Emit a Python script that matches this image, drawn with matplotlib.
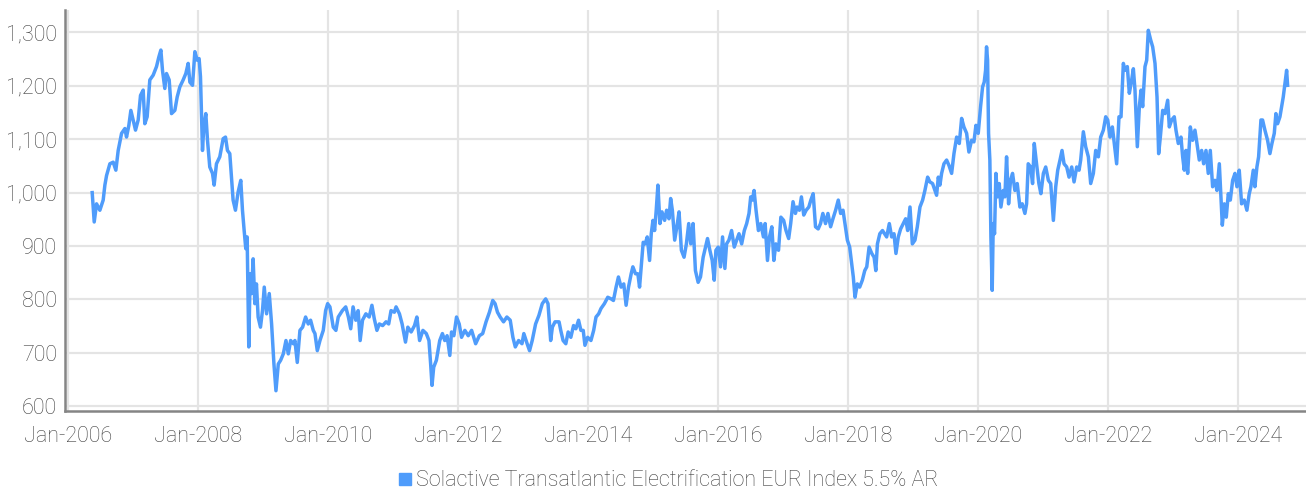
from datetime import datetime, timedelta
import matplotlib
matplotlib.use("Agg")
import matplotlib.pyplot as plt
import matplotlib.dates as mdates
from matplotlib.lines import Line2D
from matplotlib.ticker import FuncFormatter

# index level, sampled from the chart (decimal year, value)
years = [
    2006.369, 2006.400, 2006.436, 2006.487, 2006.538, 2006.564, 2006.590, 2006.641, 2006.692, 2006.733,
    2006.769, 2006.821, 2006.872, 2006.897, 2006.933, 2006.964, 2007.000, 2007.036, 2007.077, 2007.113,
    2007.154, 2007.179, 2007.215, 2007.256, 2007.308, 2007.359, 2007.395, 2007.426, 2007.451, 2007.487,
    2007.513, 2007.554, 2007.590, 2007.641, 2007.677, 2007.718, 2007.769, 2007.810, 2007.846, 2007.872,
    2007.913, 2007.949, 2007.985, 2008.015, 2008.036, 2008.067, 2008.087, 2008.118, 2008.144, 2008.179,
    2008.221, 2008.246, 2008.282, 2008.333, 2008.385, 2008.421, 2008.451, 2008.487, 2008.513, 2008.538,
    2008.574, 2008.615, 2008.656, 2008.682, 2008.708, 2008.733, 2008.754, 2008.779, 2008.800, 2008.821,
    2008.846, 2008.872, 2008.897, 2008.923, 2008.959, 2008.990, 2009.015, 2009.051, 2009.092, 2009.128,
    2009.164, 2009.195, 2009.231, 2009.267, 2009.308, 2009.349, 2009.385, 2009.421, 2009.462, 2009.487,
    2009.523, 2009.564, 2009.605, 2009.651, 2009.692, 2009.728, 2009.769, 2009.795, 2009.831, 2009.872,
    2009.923, 2009.959, 2009.990, 2010.026, 2010.077, 2010.118, 2010.154,
    2010.217, 2010.269, 2010.310, 2010.346, 2010.382, 2010.424, 2010.460, 2010.491, 2010.527, 2010.579,
    2010.630, 2010.672, 2010.708, 2010.749, 2010.786, 2010.837, 2010.889, 2010.930, 2010.966, 2011.018,
    2011.044, 2011.096, 2011.137, 2011.189, 2011.225, 2011.276, 2011.328, 2011.364, 2011.406, 2011.457,
    2011.509, 2011.550, 2011.576, 2011.597, 2011.623, 2011.664, 2011.716, 2011.757, 2011.793, 2011.829,
    2011.871, 2011.897, 2011.933, 2011.974, 2012.016, 2012.052, 2012.103, 2012.155, 2012.207, 2012.269,
    2012.326, 2012.377, 2012.429, 2012.481, 2012.532, 2012.568, 2012.605, 2012.646, 2012.698, 2012.749,
    2012.801, 2012.842, 2012.879, 2012.930, 2012.982, 2013.008, 2013.059, 2013.096, 2013.137, 2013.189,
    2013.240, 2013.292, 2013.344, 2013.380, 2013.421, 2013.447, 2013.488, 2013.550, 2013.576, 2013.612,
    2013.654, 2013.690, 2013.731, 2013.773, 2013.809, 2013.850, 2013.886, 2013.922, 2013.948, 2013.990,
    2014.041, 2014.083, 2014.119, 2014.160, 2014.196, 2014.248, 2014.300, 2014.351,
    2014.387, 2014.428, 2014.464, 2014.505, 2014.546, 2014.582, 2014.619, 2014.660, 2014.686, 2014.727,
    2014.763, 2014.789, 2014.814, 2014.845, 2014.876, 2014.907, 2014.943, 2014.969, 2014.995, 2015.021,
    2015.046, 2015.072, 2015.103, 2015.134, 2015.175, 2015.206, 2015.242, 2015.268, 2015.294, 2015.330,
    2015.371, 2015.397, 2015.433, 2015.474, 2015.510, 2015.546, 2015.577, 2015.613, 2015.649, 2015.691,
    2015.727, 2015.768, 2015.804, 2015.835, 2015.871, 2015.907, 2015.938, 2015.964, 2016.000, 2016.036,
    2016.067, 2016.103, 2016.129, 2016.165, 2016.206, 2016.247, 2016.284, 2016.320, 2016.361, 2016.402,
    2016.438, 2016.474, 2016.500, 2016.526, 2016.552, 2016.582, 2016.619, 2016.655, 2016.696, 2016.722,
    2016.758, 2016.789, 2016.825, 2016.856, 2016.887, 2016.928, 2016.964, 2017.005, 2017.041, 2017.082,
    2017.113, 2017.149, 2017.186, 2017.211, 2017.247, 2017.278, 2017.314, 2017.351, 2017.392, 2017.423,
    2017.459, 2017.495, 2017.536, 2017.572, 2017.608, 2017.649, 2017.686, 2017.727, 2017.763, 2017.804,
    2017.845, 2017.881, 2017.918, 2017.948, 2017.985, 2018.021, 2018.052, 2018.077, 2018.103, 2018.139,
    2018.175, 2018.216, 2018.253, 2018.284, 2018.320, 2018.361, 2018.397, 2018.423, 2018.448, 2018.485,
    2018.526,
    2018.590, 2018.631, 2018.667, 2018.703, 2018.733, 2018.769, 2018.805, 2018.846, 2018.882, 2018.913,
    2018.949, 2018.985, 2019.026, 2019.062, 2019.103, 2019.144, 2019.179, 2019.221, 2019.256, 2019.297,
    2019.333, 2019.359, 2019.385, 2019.410, 2019.436, 2019.472, 2019.513, 2019.549, 2019.590, 2019.626,
    2019.667, 2019.708, 2019.744, 2019.779, 2019.821, 2019.856, 2019.897, 2019.933, 2019.964, 2020.000,
    2020.036, 2020.067, 2020.092, 2020.113, 2020.128, 2020.144, 2020.159, 2020.179, 2020.195, 2020.215,
    2020.231, 2020.251, 2020.272, 2020.297, 2020.323, 2020.349, 2020.385, 2020.410, 2020.436, 2020.467,
    2020.497, 2020.528, 2020.564, 2020.600, 2020.641, 2020.677, 2020.718, 2020.744, 2020.769, 2020.805,
    2020.836, 2020.862, 2020.897, 2020.933, 2020.964, 2021.000, 2021.036, 2021.077, 2021.113, 2021.154,
    2021.190, 2021.221, 2021.256, 2021.287, 2021.318, 2021.359, 2021.395, 2021.436, 2021.472, 2021.513,
    2021.549, 2021.574, 2021.615, 2021.651, 2021.692, 2021.728, 2021.769, 2021.805, 2021.846, 2021.882,
    2021.923, 2021.959, 2021.990, 2022.026, 2022.062, 2022.092, 2022.128, 2022.164, 2022.195, 2022.231,
    2022.256, 2022.292, 2022.323, 2022.359, 2022.385, 2022.410, 2022.446, 2022.477, 2022.503, 2022.528,
    2022.564, 2022.590, 2022.615, 2022.651, 2022.682,
    2022.718, 2022.749, 2022.774, 2022.800, 2022.836, 2022.872, 2022.913, 2022.938, 2022.974, 2023.015,
    2023.041, 2023.077, 2023.118, 2023.144, 2023.169, 2023.195, 2023.221, 2023.262, 2023.297, 2023.333,
    2023.364, 2023.400, 2023.436, 2023.467, 2023.503, 2023.538, 2023.569, 2023.605, 2023.641, 2023.672,
    2023.708, 2023.733, 2023.754, 2023.785, 2023.815, 2023.846, 2023.877, 2023.913, 2023.949, 2023.979,
    2024.015, 2024.051, 2024.092, 2024.133, 2024.169, 2024.195, 2024.231, 2024.256, 2024.287, 2024.313,
    2024.349, 2024.374, 2024.410, 2024.451, 2024.487, 2024.518, 2024.554, 2024.579, 2024.605, 2024.641,
    2024.667, 2024.692, 2024.718, 2024.744, 2024.759,
]
levels = [
    1000, 945, 979, 967, 986, 1014, 1032, 1054, 1057, 1042,
    1079, 1111, 1120, 1104, 1126, 1154, 1136, 1117, 1136, 1182,
    1192, 1129, 1142, 1211, 1220, 1236, 1254, 1267, 1229, 1195,
    1223, 1211, 1148, 1154, 1179, 1198, 1211, 1223, 1242, 1207,
    1201, 1264, 1248, 1251, 1217, 1079, 1123, 1148, 1098, 1048,
    1036, 1014, 1054, 1067, 1101, 1104, 1079, 1073, 1029, 986,
    967, 1001, 1023, 967, 929, 895, 917, 711, 848, 811,
    876, 792, 829, 767, 748, 779, 823, 773, 811, 754,
    679, 629, 679, 686, 698, 723, 698, 723, 717, 723,
    682, 742, 748, 767, 754, 761, 742, 736, 704, 723,
    742, 779, 792, 786, 748, 742, 767,
    779, 786, 767, 745, 786, 761, 779, 723, 761, 773,
    767, 789, 764, 742, 754, 751, 758, 754, 779, 776,
    786, 773, 754, 720, 748, 739, 751, 767, 723, 742,
    736, 723, 679, 639, 673, 686, 723, 736, 723, 732,
    695, 739, 732, 767, 754, 729, 742, 732, 742, 717,
    732, 736, 758, 776, 798, 792, 776, 767, 758, 767,
    761, 729, 711, 723, 717, 736, 717, 704, 723, 754,
    770, 792, 801, 792, 723, 748, 758, 758, 742, 723,
    717, 739, 729, 751, 745, 761, 742, 742, 714, 729,
    723, 742, 767, 773, 783, 792, 804, 801,
    798, 823, 842, 823, 829, 789, 823, 848, 861, 848,
    848, 823, 861, 907, 904, 917, 873, 923, 948, 929,
    967, 1014, 942, 964, 948, 967, 951, 989, 967, 911,
    942, 964, 892, 879, 904, 942, 904, 942, 854, 832,
    842, 879, 898, 914, 892, 873, 836, 892, 898, 861,
    917, 858, 904, 911, 929, 898, 911, 923, 904, 929,
    942, 961, 992, 986, 1004, 967, 929, 942, 917, 942,
    873, 917, 936, 873, 904, 892, 954, 948, 929, 914,
    942, 983, 961, 973, 967, 992, 958, 967, 973, 986,
    998, 936, 932, 942, 961, 942, 961, 936, 951, 967,
    986, 961, 967, 942, 911, 898, 867, 842, 804, 829,
    823, 836, 854, 861, 898, 886, 879, 854, 904, 923,
    929,
    917, 942, 917, 923, 886, 917, 932, 942, 951, 929,
    973, 904, 911, 936, 973, 986, 1004, 1029, 1020, 1017,
    1004, 995, 1029, 1014, 1036, 1054, 1061, 1051, 1036, 1073,
    1104, 1092, 1139, 1123, 1111, 1076, 1098, 1095, 1126, 1111,
    1161, 1198, 1207, 1229, 1273, 1248, 1111, 1061, 917, 817,
    942, 923, 1036, 992, 1017, 973, 1004, 992, 1067, 979,
    1023, 1036, 1004, 1017, 973, 979, 961, 979, 1054, 1048,
    1017, 1092, 1054, 1017, 998, 1036, 1048, 1023, 1017, 948,
    1011, 1042, 1061, 1079, 1054, 1048, 1029, 1048, 1020, 1048,
    1042, 1061, 1114, 1086, 1067, 1017, 1036, 1079, 1067, 1104,
    1117, 1142, 1136, 1104, 1123, 1092, 1054, 1142, 1142, 1242,
    1229, 1236, 1186, 1211, 1232, 1192, 1086, 1161, 1192, 1161,
    1236, 1248, 1304, 1286, 1273,
    1242, 1179, 1073, 1104, 1154, 1148, 1173, 1123, 1136, 1142,
    1117, 1092, 1104, 1067, 1042, 1079, 1036, 1123, 1098, 1117,
    1092, 1061, 1079, 1054, 1079, 1036, 1079, 1011, 1023, 1004,
    1054, 992, 939, 979, 954, 998, 986, 1023, 1036, 1011,
    1042, 979, 986, 967, 998, 1011, 1042, 1011, 1048, 1067,
    1136, 1136, 1117, 1098, 1073, 1092, 1111, 1148, 1129, 1142,
    1161, 1179, 1204, 1229, 1201,
]
series_name = "Solactive Transatlantic Electrification EUR Index 5.5% AR"
y_ticks = [600, 700, 800, 900, 1000, 1100, 1200, 1300]
x_tick_years = list(range(2006, 2025, 2))


def to_date(y):
    yr = int(y)
    return datetime(yr, 1, 1) + timedelta(days=(y - yr) * 365.25)


dates = [to_date(y) for y in years]

plt.rcParams['font.family'] = ['Roboto', 'DejaVu Sans']
plt.rcParams['font.weight'] = 'light'
line_color = '#4f9cfb'
text_color = '#404040'

fig = plt.figure(figsize=(13.06, 4.93), dpi=100)
ax = fig.add_axes([65 / 1306, 82 / 493, 1 - 65 / 1306, 401 / 493])

ax.plot(dates, levels, color=line_color, linewidth=2.5, solid_joinstyle='round')

ax.set_ylim(591, 1342)
ax.set_yticks(y_ticks)
ax.yaxis.set_major_formatter(FuncFormatter(lambda v, p: f"{v:,.0f}"))
ax.set_xlim(to_date(2005.95), to_date(2025.04))
ax.set_xticks([datetime(y, 1, 1) for y in x_tick_years])
ax.xaxis.set_major_formatter(mdates.DateFormatter('%b-%Y'))

ax.grid(True, color='#e4e4e4', linewidth=1.6)
ax.set_axisbelow(True)
for s in ['top', 'right']:
    ax.spines[s].set_visible(False)
for s in ['left', 'bottom']:
    ax.spines[s].set_color('#858585')
    ax.spines[s].set_linewidth(1.8)
ax.tick_params(axis='both', length=0, labelsize=15.5, labelcolor=text_color)
ax.tick_params(axis='x', pad=11)
ax.tick_params(axis='y', pad=6)

handle = Line2D([], [], marker='s', linestyle='None', color=line_color, markersize=8)
fig.legend([handle], [series_name], loc='center', bbox_to_anchor=(0.511, 0.025),
           frameon=False, fontsize=15.5, labelcolor=text_color,
           handletextpad=0.1, handlelength=0.8)

fig.savefig('out.png', dpi=100)
